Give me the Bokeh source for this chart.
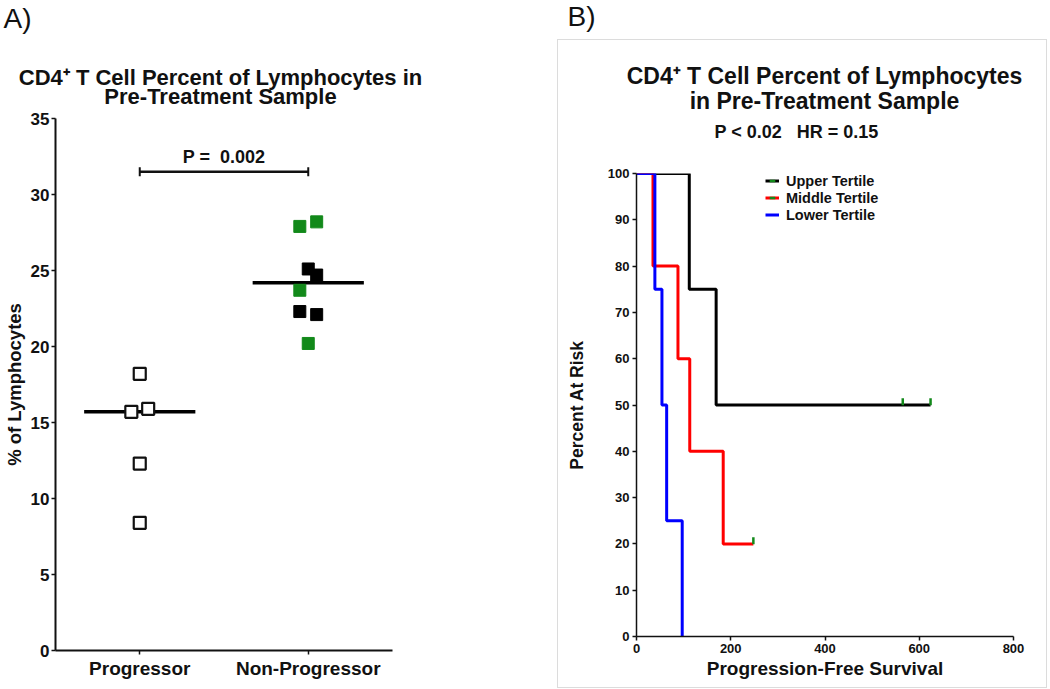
import numpy as np
from bokeh.plotting import figure
from bokeh.models import (Range1d, FactorRange, FixedTicker, Legend,
                          LegendItem, Label, ColumnDataSource)
from bokeh.layouts import row, column
from bokeh.transform import dodge, factor_cmap
from bokeh.core.properties import value
from bokeh.embed import file_html
from bokeh.resources import INLINE

FONT = "Liberation Sans"
GREEN = "#12891a"
INK = "#111111"
NB = "\u00a0"

# ---------------- data: panel A ----------------
groups = ["Progressor", "Non-Progressor"]
progressor_pct = [18.2, 15.7, 15.9, 12.3, 8.4]
progressor_swarm = [0.0, -0.05, 0.05, 0.0, 0.0]
nonprog_pct = [27.9, 28.2, 25.1, 24.7, 23.7, 22.3, 22.1, 20.2]
nonprog_swarm = [-0.05, 0.05, 0.0, 0.05, -0.05, -0.05, 0.05, 0.0]
nonprog_subset = ["green", "green", "black", "black", "green", "black", "black", "green"]
p_value_text = "P =" + NB + NB + "0.002"
p_bar_level = 31.5
y_ticks_a = [0, 5, 10, 15, 20, 25, 30, 35]
title_a = ["CD4\u207a T Cell Percent of Lymphocytes in", "Pre-Treatment Sample"]

# ---------------- data: panel B ----------------
upper_t = [0, 112, 169, 624]
upper_s = [100, 75, 50, 50]
upper_cens_t = [565, 624]
upper_cens_s = [50, 50]
middle_t = [0, 35, 88, 113, 184, 248]
middle_s = [100, 80, 60, 40, 20, 20]
middle_cens_t = [248]
middle_cens_s = [20]
lower_t = [0, 39, 54, 64, 97]
lower_s = [100, 75, 50, 25, 0]
lower_cens_t = []
lower_cens_s = []
tertile_names = ["Upper Tertile", "Middle Tertile", "Lower Tertile"]
x_ticks_b = [0, 200, 400, 600, 800]
y_ticks_b = list(range(0, 101, 10))
title_b = ["CD4\u207a T Cell Percent of Lymphocytes", "in Pre-Treatment Sample"]
stats_b = "P < 0.02" + NB * 3 + "HR = 0.15"


def style_axis(ax, label_size, tick_size):
    ax.axis_line_width = 2
    ax.axis_line_color = INK
    ax.major_tick_line_width = 1.5
    ax.major_tick_line_color = INK
    ax.major_tick_in = 0
    ax.major_tick_out = 4
    ax.minor_tick_line_color = None
    ax.major_label_text_font = FONT
    ax.major_label_text_font_style = "bold"
    ax.major_label_text_font_size = tick_size
    ax.major_label_text_color = INK
    ax.axis_label_text_font = FONT
    ax.axis_label_text_font_style = "bold"
    ax.axis_label_text_font_size = label_size
    ax.axis_label_text_color = INK


def blank(width, height):
    h = figure(width=width, height=height, x_range=Range1d(0, width), y_range=Range1d(0, height),
               x_axis_location=None, y_axis_location=None, min_border=0, title=None,
               toolbar_location=None, output_backend="svg")
    h.grid.visible = False
    h.outline_line_color = None
    return h


def put(h, x, y, text, size, bold=True, align="center"):
    h.add_layout(Label(x=x, y=y, text=text, text_font=FONT, text_font_size=size,
                       text_font_style="bold" if bold else "normal",
                       text_align=align, text_baseline="middle", text_color=INK))


# ---------------- headers / titles ----------------
pAhead = blank(557, 109)
put(pAhead, 3, 91, "A)", "28px", bold=False, align="left")
put(pAhead, 220, 32.5, title_a[0], "22px")
put(pAhead, 220, 12.8, title_a[1], "22px")

pBhead = blank(490, 39)
put(pBhead, 10, 23, "B)", "28px", bold=False, align="left")

pBtitle = blank(488, 123)
put(pBtitle, 266, 88, title_b[0], "23px")
put(pBtitle, 266, 63, title_b[1], "23px")
put(pBtitle, 156, 32, stats_b, "18px", align="left")

# ---------------- panel A ----------------
p1 = figure(width=557, height=580, x_range=FactorRange(*groups), y_range=Range1d(0, 35),
            min_border_left=53, min_border_right=165, min_border_top=9, min_border_bottom=39,
            title=None, toolbar_location=None, output_backend="svg")
p1.grid.visible = False
p1.outline_line_color = None
p1.yaxis.ticker = FixedTicker(ticks=y_ticks_a)
p1.yaxis.axis_label = "% of Lymphocytes"
style_axis(p1.yaxis[0], "18.5px", "17px")
style_axis(p1.xaxis[0], "17px", "19px")
p1.yaxis.axis_label_standoff = 3
p1.yaxis.major_label_standoff = 2
p1.xaxis.major_label_standoff = 3

src_prog = ColumnDataSource(dict(
    x=[(groups[0], o) for o in progressor_swarm], v=progressor_pct))
src_non = ColumnDataSource(dict(
    x=[(groups[1], o) for o in nonprog_swarm], v=nonprog_pct, sub=nonprog_subset))

medians = [float(np.median(progressor_pct)), float(np.median(nonprog_pct))]
p1.segment(x0=dodge("g", -0.33, range=p1.x_range), x1=dodge("g", 0.33, range=p1.x_range),
           y0="m", y1="m", line_width=3.5, line_color="#000000",
           source=ColumnDataSource(dict(g=groups, m=medians)))

p1.scatter(x="x", y="v", marker="square", size=12, fill_color="white",
           line_color=INK, line_width=2.2, source=src_prog)
cmap = factor_cmap("sub", [GREEN, "#000000"], ["green", "black"])
p1.scatter(x="x", y="v", marker="square", size=12, fill_color=cmap, line_color=cmap,
           source=src_non)

bar_src = ColumnDataSource(dict(g0=[groups[0]], g1=[groups[1]], y=[p_bar_level],
                                t=[p_value_text]))
p1.segment(x0="g0", x1="g1", y0="y", y1="y", line_width=2.5, line_color=INK, source=bar_src)
cap_src = ColumnDataSource(dict(g=groups, y=[p_bar_level] * 2))
p1.segment(x0="g", x1="g", y0=dodge("y", -0.3), y1=dodge("y", 0.3), line_width=2,
           line_color=INK, source=cap_src)
p1.text(x=dodge("g0", 0.5, range=p1.x_range), y="y", text="t", y_offset=-5,
        text_align="center", text_baseline="bottom", text_font=value(FONT),
        text_font_style="bold", text_font_size="18px", text_color=INK, source=bar_src)

# ---------------- panel B ----------------
p2 = figure(width=488, height=524, x_range=Range1d(0, 800), y_range=Range1d(0, 100),
            min_border_left=78, min_border_right=33, min_border_top=10, min_border_bottom=51,
            title=None, toolbar_location=None, output_backend="svg")
p2.grid.visible = False
p2.outline_line_color = None
p2.xaxis.ticker = FixedTicker(ticks=x_ticks_b)
p2.yaxis.ticker = FixedTicker(ticks=y_ticks_b)
p2.xaxis.axis_label = "Progression-Free Survival"
p2.yaxis.axis_label = "Percent At Risk"
style_axis(p2.xaxis[0], "19px", "13px")
style_axis(p2.yaxis[0], "17.5px", "13px")
p2.xaxis.axis_line_width = 1.5
p2.yaxis.axis_line_width = 1.5
p2.yaxis.major_label_standoff = 3
p2.xaxis.major_label_standoff = 3
p2.yaxis.axis_label_standoff = 18
p2.xaxis.axis_label_standoff = 2

curves = [
    (upper_t, upper_s, upper_cens_t, upper_cens_s, "#000000"),
    (middle_t, middle_s, middle_cens_t, middle_cens_s, "#ff0000"),
    (lower_t, lower_s, lower_cens_t, lower_cens_s, "#0000ff"),
]
items = []
for name, (t, s, ct, cs, col) in zip(tertile_names, curves):
    r_line = p2.step(x="t", y="s", mode="after", line_width=3, line_color=col,
                     source=ColumnDataSource(dict(t=t, s=s)))
    r_cens = p2.scatter(x="t", y=dodge("s", 0.7), marker="dash", angle=np.pi / 2, size=7,
                        line_width=2.5, line_color=GREEN,
                        source=ColumnDataSource(dict(t=ct, s=cs)))
    items.append(LegendItem(label=name, renderers=[r_line, r_cens]))

legend = Legend(items=items, location=(129, 413), padding=0, margin=0, spacing=0,
                border_line_color=None, background_fill_alpha=0,
                glyph_width=14, glyph_height=17, label_height=17, label_standoff=7,
                label_text_font=FONT, label_text_font_style="bold",
                label_text_font_size="14.5px", label_text_color=INK)
p2.add_layout(legend, "center")

box = column(row(pBtitle), p2, styles={"border": "1px solid #dcdcdc"})
left = column(row(pAhead), p1)
right = column(row(pBhead), box)
layout = row(left, right)
open("out.html", "w").write(file_html(layout, INLINE))
